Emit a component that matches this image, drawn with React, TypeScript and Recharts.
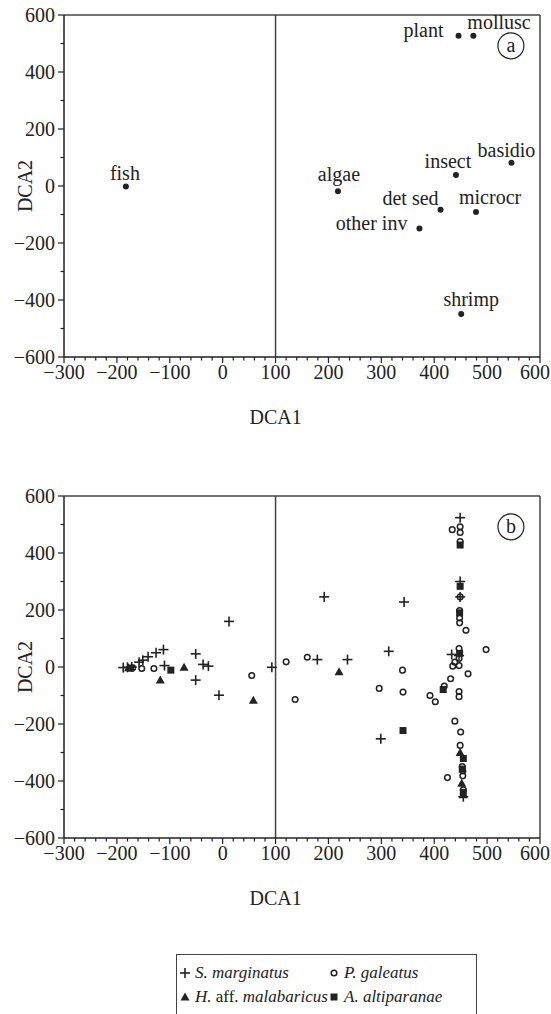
import React from "react";
import {
  ScatterChart,
  Scatter,
  XAxis,
  YAxis,
  ReferenceLine,
  ReferenceDot,
} from "recharts";

const FONT = '"Liberation Serif", "Times New Roman", serif';
const INK = "#222";
const FRAME = "#444";

// axis ticks
const xTickLabels = [-300, -200, -100, 0, 100, 200, 300, 400, 500, 600];
const yTickLabels = [-600, -400, -200, 0, 200, 400, 600];
const xTicks = Array.from({ length: 46 }, (_, i) => -300 + i * 20);
const yTicks = Array.from({ length: 13 }, (_, i) => -600 + i * 100);

// panel a: food items
const foodItems = ["fish", "algae", "plant", "mollusc", "basidio", "insect", "det sed", "microcr", "other inv", "shrimp"];
const foodDca1 = [-183, 218, 446, 474, 546, 441, 412, 479, 372, 451];
const foodDca2 = [-2, -18, 527, 527, 82, 39, -83, -91, -149, -449];

// panel b: individuals by species [DCA1, DCA2]
const sMarginatus = [
  [-188, -2], [-180, -1], [-172, 0], [-158, 17], [-151, 24], [-141, 36], [-126, 50], [-112, 61],
  [-110, 5], [-51, 46], [-51, -46], [-37, 9], [-27, 3], [-7, -99], [12, 160], [93, -1],
  [179, 26], [236, 26], [192, 246], [343, 228], [314, 55], [299, -252],
  [449, 524], [449, 300], [449, 246], [433, 44], [447, 40], [455, -455],
];
const pGaleatus = [
  [-170, -3], [-153, -5], [-130, -5], [55, -30], [120, 18], [160, 34], [137, -114],
  [340, -11], [296, -75], [341, -88], [392, -100], [402, -122], [419, -67], [431, -41],
  [447, -86], [447, -104], [464, -24], [439, -190], [450, -228], [449, -275],
  [453, -349], [454, -365], [454, -382], [425, -388], [455, -431],
  [434, 482], [449, 492], [449, 472], [449, 440], [449, 246], [448, 198], [448, 172],
  [448, 155], [460, 129], [447, 65], [447, 30], [439, 17], [435, 3], [447, 5], [498, 61],
];
const hMalabaricus = [
  [-178, -3], [-118, -46], [-73, -1], [58, -117], [220, -17], [449, -300], [452, -408], [455, -448],
];
const aAltiparanae = [
  [-174, -4], [-98, -11], [341, -223], [417, -79], [449, 428], [449, 283], [448, 190],
  [455, -321], [453, -358], [455, -440], [448, 48],
];

const foodData = foodItems.map((name, i) => ({ name, x: foodDca1[i], y: foodDca2[i] }));
const toPts = (arr: number[][]) => arr.map(([x, y]) => ({ x, y }));

// label placement for panel a (pixels relative to the point)
const labelPlace: Record<string, { dx: number; dy: number; anchor: string }> = {
  fish: { dx: -1, dy: -7, anchor: "middle" },
  algae: { dx: 1, dy: -10, anchor: "middle" },
  plant: { dx: -15, dy: 1, anchor: "end" },
  mollusc: { dx: -6, dy: -7, anchor: "start" },
  basidio: { dx: -5, dy: -6, anchor: "middle" },
  insect: { dx: -8, dy: -7, anchor: "middle" },
  "det sed": { dx: -2, dy: -5, anchor: "end" },
  microcr: { dx: -17, dy: -8, anchor: "start" },
  "other inv": { dx: -12, dy: 2, anchor: "end" },
  shrimp: { dx: 10, dy: -8, anchor: "middle" },
};

const fmt = (v: number) => (v < 0 ? "\u2212" + Math.abs(v) : String(v));

function XTick(props: any) {
  const { x, y, payload } = props;
  const v = payload.value;
  const major = xTickLabels.includes(v);
  return (
    <g>
      <line x1={x} x2={x} y1={y} y2={y + (major ? 6 : 3.5)} stroke={INK} strokeWidth={1.2} />
      {major && (
        <text x={Math.min(x, 535)} y={y + 22} textAnchor="middle" fontSize={20} fontFamily={FONT} fill={INK}>
          {fmt(v)}
        </text>
      )}
    </g>
  );
}

function YTick(props: any) {
  const { x, y, payload } = props;
  const v = payload.value;
  const major = yTickLabels.includes(v);
  return (
    <g>
      <line x1={x - (major ? 6 : 3.5)} x2={x} y1={y} y2={y} stroke={INK} strokeWidth={1.2} />
      {major && (
        <text x={x - 9} y={y} dy="0.35em" textAnchor="end" fontSize={20} fontFamily={FONT} fill={INK}>
          {fmt(v)}
        </text>
      )}
    </g>
  );
}

function XTitle(props: any) {
  const vb = props.viewBox;
  return (
    <text x={vb.x + (vb.width * 4) / 9} y={vb.y + 67} textAnchor="middle" fontSize={20} fontFamily={FONT} fill={INK}>
      DCA1
    </text>
  );
}

function YTitle(props: any) {
  const vb = props.viewBox;
  const cx = vb.x + 25;
  const cy = vb.y + vb.height / 2;
  return (
    <text x={cx} y={cy} dy="0.35em" textAnchor="middle" fontSize={20} fontFamily={FONT} fill={INK} transform={`rotate(-90, ${cx}, ${cy})`}>
      DCA2
    </text>
  );
}

function FoodDot(props: any) {
  const { cx, cy, payload } = props;
  const p = labelPlace[payload.name];
  return (
    <g>
      <circle cx={cx} cy={cy} r={3} fill={INK} />
      <text x={cx + p.dx} y={cy + p.dy} textAnchor={p.anchor} fontSize={20} fontFamily={FONT} fill={INK}>
        {payload.name}
      </text>
    </g>
  );
}

function Plus({ cx, cy }: any) {
  return (
    <g stroke={INK} strokeWidth={1.6}>
      <line x1={cx - 5} x2={cx + 5} y1={cy} y2={cy} />
      <line x1={cx} x2={cx} y1={cy - 5} y2={cy + 5} />
    </g>
  );
}
function Ring({ cx, cy }: any) {
  return <circle cx={cx} cy={cy} r={2.8} fill="none" stroke={INK} strokeWidth={1.5} />;
}
function Tri({ cx, cy }: any) {
  return <path d={`M${cx},${cy - 4.5} L${cx + 4.5},${cy + 3.5} L${cx - 4.5},${cy + 3.5} Z`} fill={INK} />;
}
function Sq({ cx, cy }: any) {
  return <rect x={cx - 3.5} y={cy - 3.5} width={7} height={7} fill={INK} />;
}

function PanelTag(letter: string) {
  return (props: any) => (
    <g>
      <circle cx={props.cx} cy={props.cy} r={13} fill="none" stroke={INK} strokeWidth={1.2} />
      <text x={props.cx} y={props.cy} dy="0.32em" textAnchor="middle" fontSize={20} fontFamily={FONT} fill={INK}>
        {letter}
      </text>
    </g>
  );
}

function Panel({ letter, children }: { letter: string; children: React.ReactNode }) {
  return (
    <ScatterChart width={551} height={440} margin={{ top: 15, right: 11, bottom: 0, left: 0 }}>
      <XAxis
        type="number"
        dataKey="x"
        domain={[-300, 600]}
        ticks={xTicks}
        interval={0}
        tickSize={0}
        tickMargin={0}
        tickLine={false}
        tick={XTick}
        axisLine={{ stroke: INK, strokeWidth: 1.5 }}
        height={83}
        allowDataOverflow
        label={{ value: "DCA1", content: XTitle }}
      />
      <YAxis
        type="number"
        dataKey="y"
        domain={[-600, 600]}
        ticks={yTicks}
        interval={0}
        tickSize={0}
        tickMargin={0}
        tickLine={false}
        tick={YTick}
        axisLine={{ stroke: INK, strokeWidth: 1.5 }}
        width={64}
        allowDataOverflow
        label={{ value: "DCA2", content: YTitle }}
      />
      <ReferenceLine y={600} stroke={FRAME} strokeWidth={1.5} />
      <ReferenceLine x={600} stroke={FRAME} strokeWidth={1.5} />
      <ReferenceLine x={100} stroke={FRAME} strokeWidth={1.5} />
      {children}
      <ReferenceDot x={545} y={492} r={13} shape={PanelTag(letter)} />
    </ScatterChart>
  );
}

function LegendMark({ kind }: { kind: string }) {
  const shape =
    kind === "plus" ? <Plus cx={7} cy={8} /> : kind === "ring" ? <Ring cx={7} cy={8} /> : kind === "tri" ? <Tri cx={7} cy={8} /> : <Sq cx={7} cy={8} />;
  return (
    <svg width={14} height={16} style={{ display: "block" }}>
      {shape}
    </svg>
  );
}

function LegendItem({ left, top, kind, children }: any) {
  return (
    <div style={{ position: "absolute", left, top, display: "flex", alignItems: "center", gap: 3, whiteSpace: "nowrap" }}>
      <LegendMark kind={kind} />
      <span>{children}</span>
    </div>
  );
}

export default function App() {
  return (
    <div style={{ position: "absolute", left: 0, top: 0, width: 551, height: 1014, background: "#fff", overflow: "hidden", fontFamily: FONT, color: INK }}>
      <div style={{ position: "absolute", left: 0, top: 0 }}>
        <Panel letter="a">
          <Scatter data={foodData} shape={FoodDot} isAnimationActive={false} />
        </Panel>
      </div>
      <div style={{ position: "absolute", left: 0, top: 481 }}>
        <Panel letter="b">
          <Scatter data={toPts(sMarginatus)} shape={Plus} isAnimationActive={false} />
          <Scatter data={toPts(pGaleatus)} shape={Ring} isAnimationActive={false} />
          <Scatter data={toPts(hMalabaricus)} shape={Tri} isAnimationActive={false} />
          <Scatter data={toPts(aAltiparanae)} shape={Sq} isAnimationActive={false} />
        </Panel>
      </div>
      <div
        style={{
          position: "absolute",
          left: 176,
          top: 954,
          width: 301,
          height: 62,
          border: `1.3px solid ${FRAME}`,
          borderBottom: "none",
          boxSizing: "border-box",
          fontSize: 17,
          lineHeight: "20px",
        }}
      >
        <LegendItem left={1} top={8} kind="plus">
          <i>S. marginatus</i>
        </LegendItem>
        <LegendItem left={150} top={8} kind="ring">
          <i>P. galeatus</i>
        </LegendItem>
        <LegendItem left={1} top={32} kind="tri">
          <i>H.</i> aff. <i>malabaricus</i>
        </LegendItem>
        <LegendItem left={150} top={32} kind="sq">
          <i>A. altiparanae</i>
        </LegendItem>
      </div>
    </div>
  );
}
